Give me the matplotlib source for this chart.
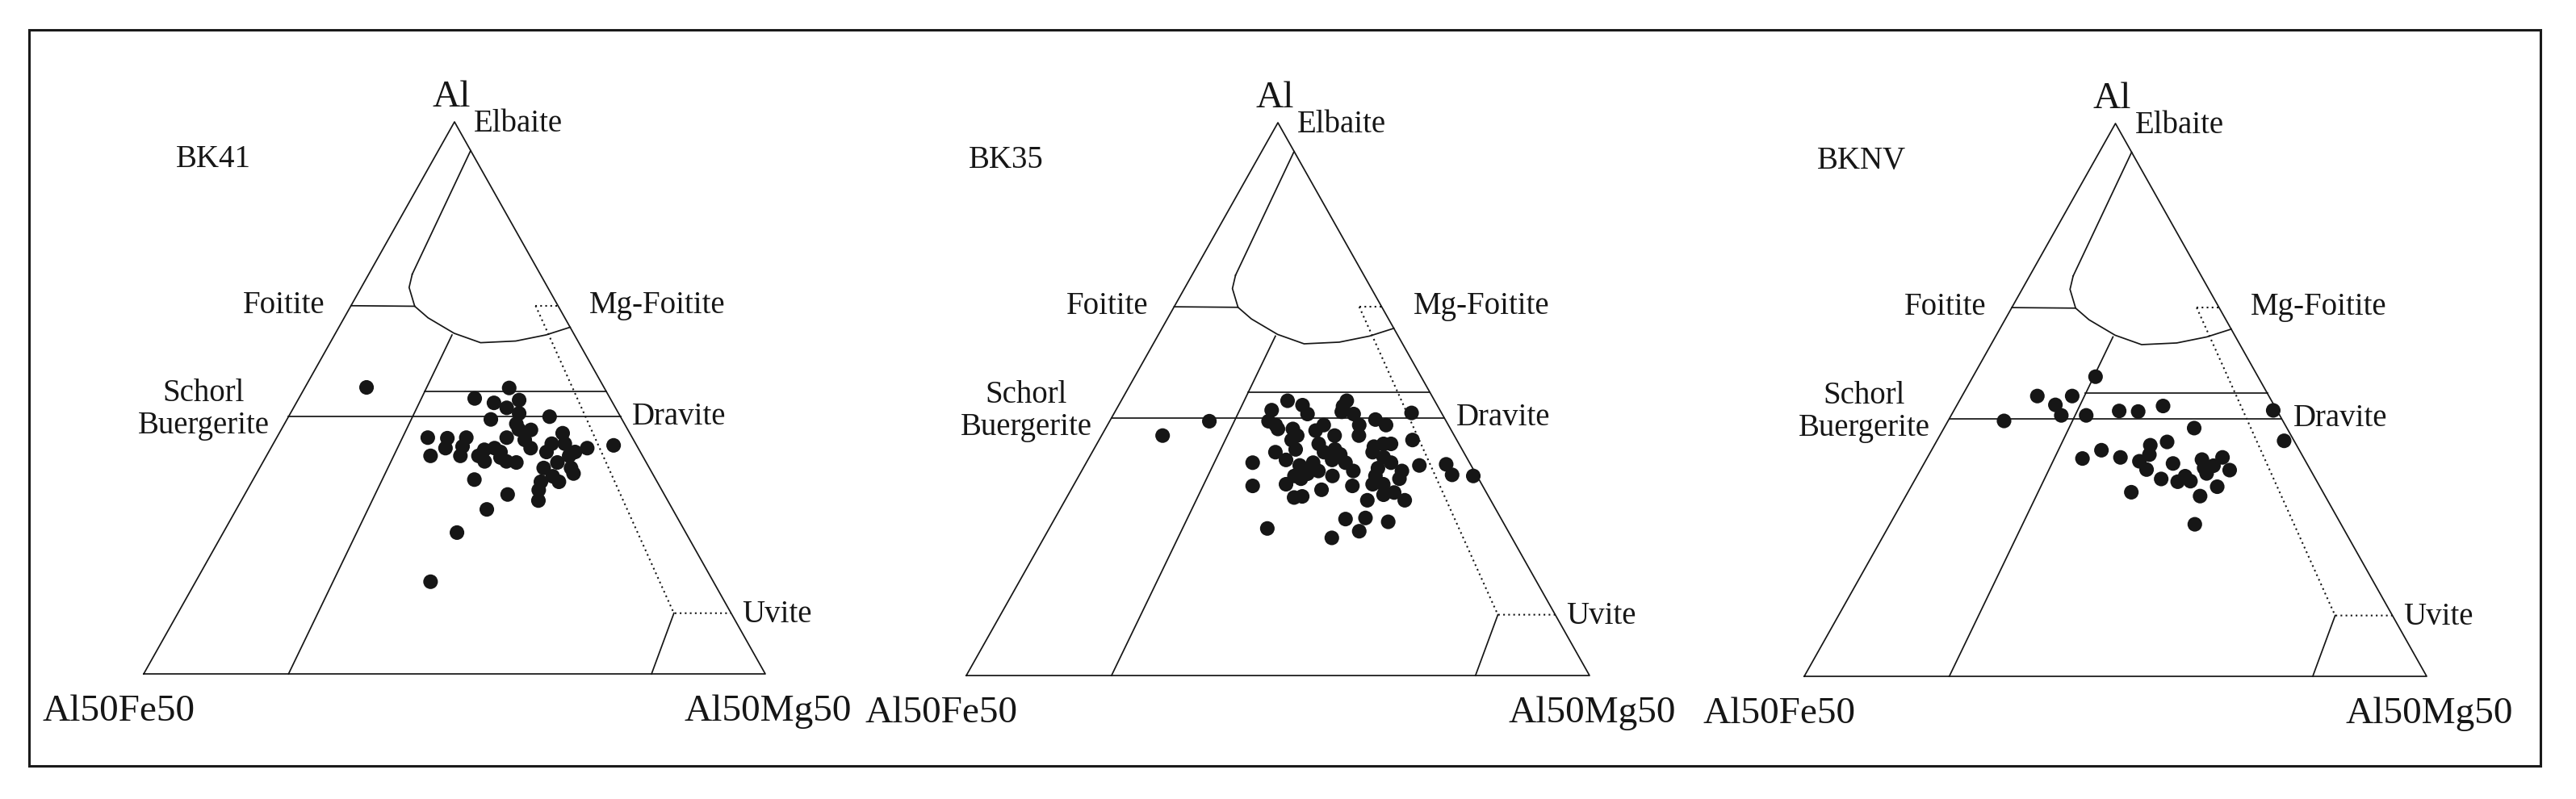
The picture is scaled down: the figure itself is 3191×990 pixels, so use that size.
import matplotlib
matplotlib.use("Agg")
import matplotlib.pyplot as plt
from matplotlib.patches import Rectangle

plt.rcParams["font.family"] = ["Liberation Serif", "DejaVu Serif"]

# sample names
SAMPLES = ["BK41", "BK35", "BKNV"]

# point compositions: Al apex (%) and Al50Mg50 component (%); Al50Fe50 is the rest
BK41_AL = [51.9, 51.8, 49.9, 49.1, 48.2, 49.6, 47.2, 46.1, 46.6, 44.3, 44.2, 42.8, 42.7,
           42.8, 39.5, 40.9, 41.2, 39.5, 42.8, 40.6, 40.9, 38.5, 39.2, 38.5, 38.3, 40.9,
           43.6, 41.7, 40.2, 38.3, 40.2, 40.9, 41.4, 37.3, 36.3, 37.3, 34.8, 34.8, 33.3,
           31.4, 35.2, 32.5, 29.8, 25.6, 16.7, 40.2, 39.5, 41.7, 39.5, 35.8, 42.4, 45.3]
BK41_MG = [9.9, 32.9, 28.3, 31.8, 34.3, 35.6, 36.8, 32.8, 42.0, 38.2, 40.2, 24.3, 27.5,
           30.5, 26.4, 28.1, 30.7, 31.2, 37.0, 34.5, 36.0, 35.6, 37.8, 39.1, 40.8, 41.8,
           45.6, 44.8, 44.7, 47.4, 49.3, 50.9, 54.9, 50.1, 51.0, 45.7, 49.4, 46.5, 46.9,
           47.8, 35.6, 42.3, 40.3, 37.6, 37.8, 37.3, 34.1, 46.9, 48.7, 47.9, 40.1, 37.3]

BK35_AL = [43.4, 46.0, 48.0, 46.0, 44.6, 49.7, 48.9, 47.3, 44.6, 42.6, 40.9, 40.4, 39.0,
           38.0, 35.6, 44.3, 45.3, 43.4, 41.9, 40.4, 38.5, 37.0, 39.0, 40.0, 38.5, 37.0,
           36.1, 49.7, 47.7, 47.3, 45.3, 43.4, 46.3, 45.3, 41.4, 41.9, 41.9, 39.5, 38.5,
           36.1, 34.6, 34.6, 35.6, 33.1, 31.7, 31.7, 32.7, 28.5, 27.8, 28.3, 26.1, 24.9,
           26.6, 38.5, 34.3, 34.6, 32.2, 32.4, 33.6, 34.3, 47.5, 42.6, 38.0, 38.2, 36.3,
           36.1, 45.3, 43.4, 36.5, 40.9, 48.7, 40.4, 37.5, 37.0, 36.1]
BK35_MG = [9.8, 16.0, 25.0, 25.5, 27.7, 26.7, 29.5, 31.1, 30.1, 30.9, 32.4, 29.4, 31.8,
           34.5, 35.9, 33.9, 34.7, 37.4, 35.6, 37.2, 36.4, 38.0, 39.2, 40.0, 41.6, 43.6,
           40.7, 36.2, 36.4, 38.5, 40.4, 41.3, 42.5, 44.7, 44.7, 46.0, 47.2, 47.2, 48.9,
           47.6, 47.9, 49.6, 51.7, 52.1, 54.5, 48.5, 50.6, 49.8, 53.8, 46.7, 50.0, 46.2,
           35.0, 26.7, 28.8, 34.0, 36.5, 37.7, 40.2, 44.8, 47.7, 50.3, 53.7, 57.9, 59.8,
           63.3, 27.0, 31.4, 36.5, 38.7, 36.1, 45.0, 47.3, 51.4, 34.6]

BKNV_AL = [46.2, 50.7, 49.1, 47.2, 50.7, 54.2, 47.2, 48.0, 47.9, 48.9, 48.1, 44.9, 42.6,
           39.4, 40.9, 39.6, 41.8, 42.4, 40.1, 38.9, 37.4, 38.5, 35.7, 35.2, 36.2, 35.3,
           39.2, 37.7, 38.1, 39.6, 37.3, 34.3, 32.6, 33.3, 27.5, 36.7]
BKNV_MG = [9.0, 12.1, 15.8, 17.7, 17.7, 19.7, 21.7, 26.6, 29.7, 33.2, 51.3, 40.2, 55.8,
           25.0, 27.3, 31.0, 34.7, 37.1, 35.4, 34.4, 36.3, 40.0, 39.5, 42.4, 43.1, 44.4,
           44.3, 45.4, 46.7, 47.4, 49.7, 49.2, 47.3, 35.9, 49.0, 46.3]

PANEL_AL = [BK41_AL, BK35_AL, BKNV_AL]
PANEL_MG = [BK41_MG, BK35_MG, BKNV_MG]

# field boundaries (Henry & Guidotti type diagram), as (Al, Mg) pairs
LINE_TOP = [(94.8, 5.2), (72.4, 7.0)]
LINE_LOBE = [(72.4, 7.0), (70.0, 7.7), (66.6, 10.3), (64.5, 13.5), (61.7, 19.1),
             (60.0, 24.2), (60.3, 29.7), (61.4, 34.0), (62.8, 37.2)]
LINE_FOITITE = [(66.7, 0.0), (66.6, 10.3)]
LINE_FE = [(61.4, 18.9), (0.0, 23.3)]
LINE_UPPER = [(51.2, 19.6), (51.2, 48.8)]
LINE_SCHORL = [(46.6, 0.0), (46.6, 53.4)]
LINE_UVITE = [(11.0, 79.8), (0.0, 81.7)]
DOT_TOP = [(66.7, 29.7), (66.7, 33.3)]
DOT_MAIN = [(66.7, 29.7), (12.1, 78.8), (11.0, 79.8), (11.0, 89.0)]

# panel placement in pixels: base-left x, base y, width, height
FIG_W, FIG_H = 3191, 990
PANELS = [(178, 835, 770, 684), (1197, 837, 772, 685), (2235, 838, 771, 685)]
NAME_X = [0.052, 0.004, 0.020]

INK = "#161616"


def tern(al, mg):
    return mg / 100 + al / 200, al / 100


def draw_line(ax, pts, **kw):
    xy = [tern(a, m) for a, m in pts]
    ax.plot([p[0] for p in xy], [p[1] for p in xy], color=INK, clip_on=False, **kw)


def main():
    fig = plt.figure(figsize=(FIG_W / 100, FIG_H / 100), dpi=100)
    fig.patch.set_facecolor("white")

    fig.add_artist(Rectangle((36 / FIG_W, (FIG_H - 949) / FIG_H), 3111 / FIG_W, 912 / FIG_H,
                             transform=fig.transFigure, fill=False, lw=2.2, edgecolor="#1a1a1a"))

    for i, (bx, by, w, h) in enumerate(PANELS):
        ax = fig.add_axes([bx / FIG_W, (FIG_H - by) / FIG_H, w / FIG_W, h / FIG_H])
        ax.set_xlim(0, 1)
        ax.set_ylim(0, 1)
        ax.axis("off")

        solid = dict(lw=1.25)
        draw_line(ax, [(0, 0), (100, 0), (0, 100), (0, 0)], **solid)
        for line in [LINE_TOP, LINE_LOBE, LINE_FOITITE, LINE_FE, LINE_UPPER,
                     LINE_SCHORL, LINE_UVITE]:
            draw_line(ax, line, **solid)
        for line in [DOT_TOP, DOT_MAIN]:
            draw_line(ax, line, lw=1.5, linestyle=(0, (1, 2.0)))

        xs, ys = zip(*[tern(a, m) for a, m in zip(PANEL_AL[i], PANEL_MG[i])])
        ax.scatter(xs, ys, s=170, color=INK, edgecolors="none", zorder=3, clip_on=False)

        big = dict(fontsize=34, color=INK)
        small = dict(fontsize=28, color=INK, va="baseline")
        ax.text(0.495, 1.028, "Al", ha="center", va="baseline", **big)
        ax.text(-0.04, -0.085, "Al50Fe50", ha="center", va="baseline", **big)
        ax.text(1.004, -0.085, "Al50Mg50", ha="center", va="baseline", **big)
        ax.text(0.531, 0.982, "Elbaite", ha="left", **small)
        ax.text(0.292, 0.654, "Foitite", ha="right", **small)
        ax.text(0.717, 0.654, "Mg-Foitite", ha="left", **small)
        ax.text(0.096, 0.494, "Schorl", ha="center", **small)
        ax.text(0.096, 0.435, "Buergerite", ha="center", **small)
        ax.text(0.786, 0.452, "Dravite", ha="left", **small)
        ax.text(0.962, 0.094, "Uvite", ha="left", **small)
        ax.text(NAME_X[i], 0.918, SAMPLES[i], ha="left", **small)

    fig.savefig("out.png", dpi=100, facecolor="white")
    plt.close(fig)


if __name__ == "__main__":
    main()
